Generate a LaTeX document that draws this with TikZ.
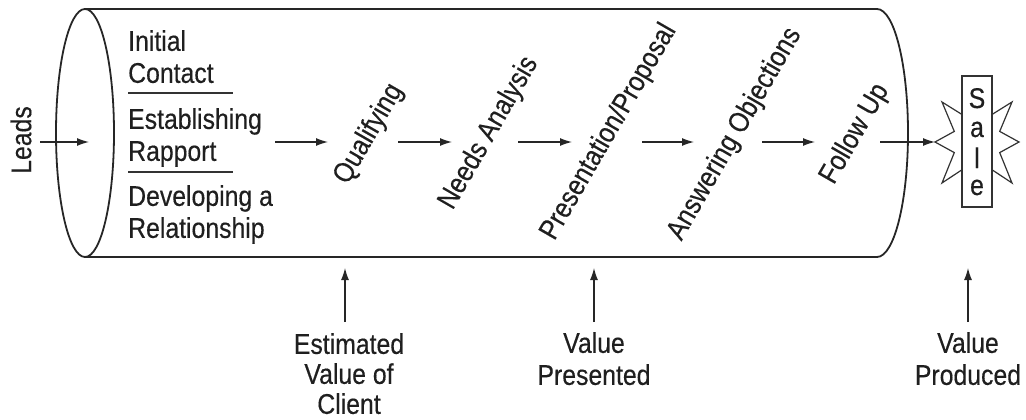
\documentclass[tikz,border=0pt]{standalone}
\usepackage{fontspec}
\setmainfont[FakeStretch=0.87,FakeBold=0.35]{Liberation Sans}
\usetikzlibrary{arrows.meta}
\begin{document}
\begin{tikzpicture}[x=1pt,y=-1pt,
  outline/.style={draw=black!85,line width=1.8pt},
  rule/.style={draw=black!80,line width=1.2pt},
  arr/.style={draw=black!85,line width=1.2pt,-{Latex[length=12pt,width=8pt]}},
  txt/.style={inner sep=0pt,text=black!88,font=\fontsize{28.5}{32}\selectfont},
  stage/.style={txt,rotate=60},
  block/.style={txt,anchor=north west,align=left},
  note/.style={txt,anchor=north,align=center},
  letter/.style={txt,anchor=base}
]
\useasboundingbox (0,0) rectangle (1026,420);

% funnel-shaped tube: open left end drawn as a full ellipse, closed right end as a half ellipse
\draw[outline] (85,9) -- (877,9)
  arc[start angle=-90,end angle=90,x radius=31,y radius=124] -- (85,257);
\draw[outline] (85,133) ellipse[x radius=29,y radius=124];

% incoming leads
\node[txt,rotate=90] (leads) at (21,140) {Leads};
\coordinate (leadsA) at (40,142);
\coordinate (leadsB) at (89,142);
\draw[arr] (leadsA) -- (leadsB);

% opening steps, stacked and separated by short rules
\node[block] (contact) at (128,30) {Initial\\Contact};
\node[block] (rapport) at (128,108) {Establishing\\Rapport};
\node[block] (relation) at (128,185) {Developing a\\Relationship};
\draw[rule] (128,93) -- (233,93);
\draw[rule] (128,172) -- (233,172);

% slanted stages
\node[stage] (qual) at (369,134) {Qualifying};
\node[stage] (needs) at (489,133) {Needs Analysis};
\node[stage] (pres) at (609,132) {Presentation/Proposal};
\node[stage] (obj) at (735,134) {Answering Objections};
\node[stage] (follow) at (855,134) {Follow Up};

% arrows between the stages
\coordinate (a1) at (275,142); \coordinate (b1) at (328,142);
\coordinate (a2) at (398,142); \coordinate (b2) at (452,142);
\coordinate (a3) at (518,142); \coordinate (b3) at (572,142);
\coordinate (a4) at (642,142); \coordinate (b4) at (694,142);
\coordinate (a5) at (762,142); \coordinate (b5) at (815,142);
\coordinate (a6) at (880,142); \coordinate (saleL) at (935,142);
\draw[arr] (a1) -- (b1);
\draw[arr] (a2) -- (b2);
\draw[arr] (a3) -- (b3);
\draw[arr] (a4) -- (b4);
\draw[arr] (a5) -- (b5);
\draw[arr] (a6) -- (saleL);

% the sale: a burst behind an upright label strip
\draw[rule,fill=white,line join=miter]
  (saleL) -- (954.3,131.4) -- (942,102) -- (968.4,118.5) -- (977,92)
  -- (985.6,118.5) -- (1012,102) -- (999.7,131.4) -- (1019,142)
  -- (999.7,152.6) -- (1012,183) -- (985.6,165.5) -- (977,192)
  -- (968.4,165.5) -- (942,183) -- (954.3,152.6) -- cycle;
\draw[rule,fill=white] (962,76) rectangle (992,207);
\node[letter] (s1) at (977,108) {S};
\node[letter] (s2) at (977,137) {a};
\node[letter] (s3) at (977,168) {l};
\node[letter] (s4) at (977,195) {e};

% value markers under the tube
\node[note,font=\fontsize{28.5}{30}\selectfont] (est) at (349,333) {Estimated\\Value of\\Client};
\node[note] (vpres) at (594,332) {Value\\Presented};
\node[note] (vprod) at (968,332) {Value\\Produced};
\coordinate (e1) at (345,322); \coordinate (e2) at (345,268);
\coordinate (p1) at (594,322); \coordinate (p2) at (594,268);
\coordinate (r1) at (968,322); \coordinate (r2) at (968,268);
\draw[arr] (e1) -- (e2);
\draw[arr] (p1) -- (p2);
\draw[arr] (r1) -- (r2);
\end{tikzpicture}
\end{document}
